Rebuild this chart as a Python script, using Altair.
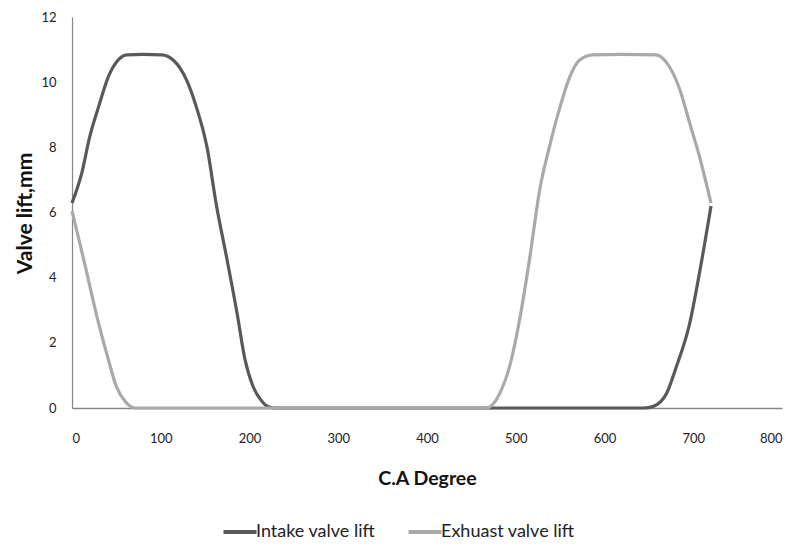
import altair as alt
import pandas as pd

# Intake valve lift (crank angle, lift mm)
intake_ca = [0, 11, 20, 30, 41, 52, 62, 80, 101, 114, 129, 140, 152, 163, 174, 186, 195, 204, 212, 219, 227,
             300, 400, 500, 600, 644, 655, 670, 681, 696, 707, 720]
intake_lift = [6.29, 7.21, 8.33, 9.25, 10.17, 10.68, 10.84, 10.85, 10.84, 10.68, 10.07, 9.25, 8.02, 6.18, 4.65, 2.91, 1.48, 0.66, 0.28, 0.07, 0.0,
               0.0, 0.0, 0.0, 0.0, 0.0, 0.05, 0.45, 1.27, 2.6, 4.14, 6.2]

# Exhaust valve lift
exhaust_ca = [0, 15, 28, 41, 50, 60, 71, 100, 200, 300, 400, 467, 482, 493, 505, 516, 527, 538, 550, 561, 572, 587,
              620, 658, 673, 685, 696, 707, 720]
exhaust_lift = [6.05, 4.35, 2.81, 1.48, 0.66, 0.2, 0.0, 0.0, 0.0, 0.0, 0.0, 0.0, 0.45, 1.27, 2.81, 4.65, 6.7, 8.02, 9.25, 10.17, 10.68, 10.84,
                10.85, 10.84, 10.48, 9.76, 8.74, 7.72, 6.29]

series_names = ["Intake valve lift", "Exhuast valve lift"]
series_colors = ["#595959", "#a9a9a9"]
x_ticks = [0, 100, 200, 300, 400, 500, 600, 700, 800]
y_ticks = [0, 2, 4, 6, 8, 10, 12]

df = pd.concat([
    pd.DataFrame({"ca": intake_ca, "lift": intake_lift, "series": series_names[0], "order": range(len(intake_ca))}),
    pd.DataFrame({"ca": exhaust_ca, "lift": exhaust_lift, "series": series_names[1], "order": range(len(exhaust_ca))}),
])

FONT = "Lato"

chart = alt.Chart(df).mark_line(interpolate="monotone", strokeWidth=3.2).encode(
    x=alt.X("ca:Q", scale=alt.Scale(domain=[0, 800], nice=False),
            axis=alt.Axis(values=x_ticks, title="C.A Degree", grid=False, ticks=False,
                          domainColor="#868686", domainWidth=1.5,
                          labelFont=FONT, labelFontSize=13, labelColor="#222222", labelPadding=24,
                          titleFont=FONT, titleFontSize=19.5, titleFontWeight="bold", titleColor="#111111",
                          titleY=70, titleBaseline="middle")),
    y=alt.Y("lift:Q", scale=alt.Scale(domain=[0, 12], nice=False),
            axis=alt.Axis(values=y_ticks, title="Valve lift,mm", grid=False, ticks=False,
                          domainColor="#868686", domainWidth=1.2,
                          labelFont=FONT, labelFontSize=13, labelColor="#222222", labelPadding=16,
                          titleFont=FONT, titleFontSize=21, titleFontWeight="bold", titleColor="#111111",
                          titleX=-47, titleY=196, titleAngle=-90, titleBaseline="middle", titleAlign="center")),
    color=alt.Color("series:N", sort=series_names,
                    scale=alt.Scale(domain=series_names, range=series_colors),
                    legend=alt.Legend(title=None, orient="none", legendX=159, legendY=506,
                                      direction="horizontal", symbolType="M-3,0H3", symbolSize=121,
                                      symbolStrokeWidth=4, labelFont=FONT, labelFontSize=18,
                                      labelColor="#222222", labelOffset=7, columnPadding=24)),
    detail="series:N",
    order="order:Q",
).properties(
    width=710, height=391,
    autosize=alt.AutoSizeParams(type="none"),
    padding={"left": 64, "top": 9, "right": 4, "bottom": 132},
).configure_view(stroke=None)

chart.save("out.html", embed_options={"renderer": "svg", "actions": False})
